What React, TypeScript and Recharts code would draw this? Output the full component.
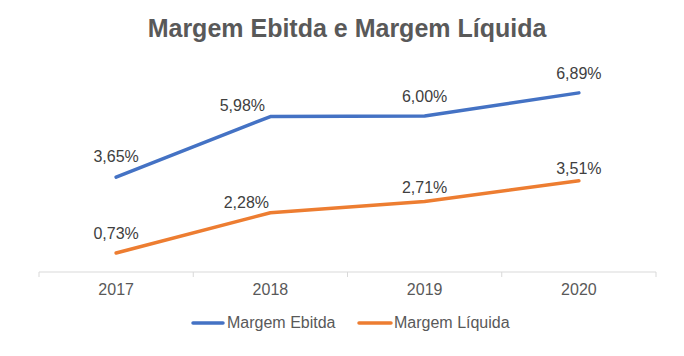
import React from 'react';
import { LineChart, Line, XAxis, YAxis, LabelList } from 'recharts';

const categories = ['2017', '2018', '2019', '2020'];
const ebitda = [3.65, 5.98, 6.0, 6.89];
const liquida = [0.73, 2.28, 2.71, 3.51];
const seriesNames = ['Margem Ebitda', 'Margem Líquida'];
const title = 'Margem Ebitda e Margem Líquida';

const data = categories.map((c, i) => ({ year: c, ebitda: ebitda[i], liquida: liquida[i] }));

const W = 684;
const H = 356;
const MARGIN = { top: 64, right: 28, bottom: 54, left: 39 };
const XAXIS_H = 30;
const PLOT_W = W - MARGIN.left - MARGIN.right;
const BAND = PLOT_W / categories.length;
const FONT = '"Liberation Sans", Arial, sans-serif';
const BLUE = '#4472C4';
const ORANGE = '#ED7D31';

// manual label nudges (dx, dy from point), as placed in the source chart
const ebitdaLabelNudge = [[0, -15], [-28, -6], [0, -14], [0, -14]];
const liquidaLabelNudge = [[0, -14], [-24, -5], [0, -9], [0, -7]];

const fmt = (v: number) => v.toFixed(2).replace('.', ',') + '%';

const makeLabel = (values: number[], nudge: number[][]) => (props: any) => {
  const { x, y, value } = props;
  let idx = typeof props.index === 'number' ? props.index : values.indexOf(Number(value));
  if (idx < 0) idx = 0;
  const [dx, dy] = nudge[idx] || [0, -12];
  return (
    <text x={Number(x) + dx} y={Number(y) + dy} textAnchor="middle" fontSize={16} fontFamily={FONT} fill="#404040">
      {fmt(Number(value))}
    </text>
  );
};

const XTick = (props: any) => {
  const { x, y, payload, index } = props;
  const last = index === categories.length - 1;
  return (
    <g>
      <line x1={x - BAND / 2} x2={x - BAND / 2} y1={y} y2={y + 5} stroke="#D9D9D9" strokeWidth={1} />
      {last && <line x1={x + BAND / 2} x2={x + BAND / 2} y1={y} y2={y + 5} stroke="#D9D9D9" strokeWidth={1} />}
      <text x={x} y={y + 23} textAnchor="middle" fontSize={16} fontFamily={FONT} fill="#595959">
        {payload.value}
      </text>
    </g>
  );
};

export default function App() {
  return (
    <div style={{ position: 'absolute', left: 0, top: 0, width: W, height: H, background: '#fff' }}>
      <LineChart width={W} height={H} data={data} margin={MARGIN}>
        <XAxis
          dataKey="year"
          height={XAXIS_H}
          padding={{ left: BAND / 2, right: BAND / 2 }}
          axisLine={{ stroke: '#D9D9D9', strokeWidth: 1 }}
          tickLine={false}
          tickSize={0}
          tickMargin={0}
          tick={<XTick />}
          interval={0}
        />
        <YAxis hide domain={[0, 8]} />
        <Line
          dataKey="ebitda"
          stroke={BLUE}
          strokeWidth={3.5}
          strokeLinecap="round"
          strokeLinejoin="round"
          dot={false}
          activeDot={false}
          isAnimationActive={false}
        >
          <LabelList dataKey="ebitda" content={makeLabel(ebitda, ebitdaLabelNudge)} />
        </Line>
        <Line
          dataKey="liquida"
          stroke={ORANGE}
          strokeWidth={3.5}
          strokeLinecap="round"
          strokeLinejoin="round"
          dot={false}
          activeDot={false}
          isAnimationActive={false}
        >
          <LabelList dataKey="liquida" content={makeLabel(liquida, liquidaLabelNudge)} />
        </Line>
      </LineChart>
      <svg width={W} height={H} style={{ position: 'absolute', left: 0, top: 0, pointerEvents: 'none' }}>
        <text x={347} y={37} textAnchor="middle" fontSize={25} fontWeight="bold" fontFamily={FONT} fill="#595959">
          {title}
        </text>
        <line x1={193} x2={223} y1={323} y2={323} stroke={BLUE} strokeWidth={3.5} strokeLinecap="round" />
        <text x={227} y={328} fontSize={16} fontFamily={FONT} fill="#595959">{seriesNames[0]}</text>
        <line x1={359} x2={391} y1={323} y2={323} stroke={ORANGE} strokeWidth={3.5} strokeLinecap="round" />
        <text x={394} y={328} fontSize={16} fontFamily={FONT} fill="#595959">{seriesNames[1]}</text>
      </svg>
    </div>
  );
}
